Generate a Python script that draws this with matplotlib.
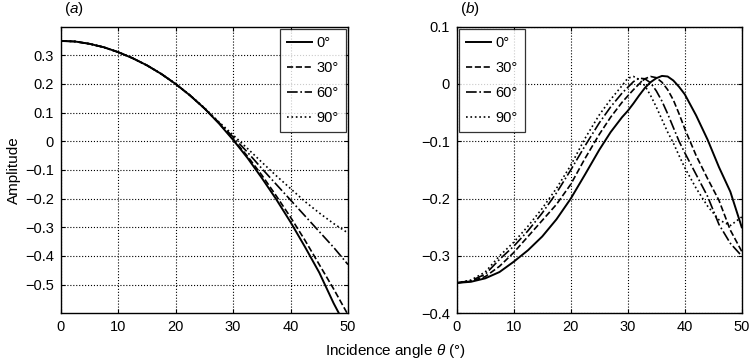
import numpy as np
import matplotlib
matplotlib.use("Agg")
import matplotlib.pyplot as plt

plt.rcParams['font.family'] = ['Liberation Sans', 'DejaVu Sans']
plt.rcParams['mathtext.fontset'] = 'custom'
plt.rcParams['mathtext.it'] = 'Liberation Sans:italic'
plt.rcParams['mathtext.rm'] = 'Liberation Sans'

labels = ["0°", "30°", "60°", "90°"]
styles = ["-", "--", "-.", ":"]

# panel (a), angles in degrees
theta_a = [0, 2.5, 5, 7.5, 10, 12.5, 15, 17.5, 20, 22.5, 25, 27.5,
           30, 32.5, 35, 37.5, 40, 42.5, 45, 47.5, 50]
a_0 = [0.350, 0.348, 0.340, 0.328, 0.311, 0.290, 0.265, 0.235, 0.200, 0.160, 0.115, 0.063,
       0.005, -0.058, -0.128, -0.202, -0.282, -0.368, -0.458, -0.565, -0.66]
a_30 = [0.350, 0.348, 0.340, 0.328, 0.311, 0.290, 0.265, 0.235, 0.200, 0.160, 0.115, 0.064,
        0.008, -0.052, -0.118, -0.190, -0.265, -0.345, -0.430, -0.515, -0.605]
a_60 = [0.350, 0.348, 0.340, 0.328, 0.311, 0.290, 0.265, 0.235, 0.200, 0.160, 0.115, 0.066,
        0.015, -0.038, -0.095, -0.150, -0.205, -0.260, -0.315, -0.370, -0.430]
a_90 = [0.350, 0.348, 0.340, 0.328, 0.311, 0.290, 0.265, 0.235, 0.200, 0.161, 0.117, 0.068,
        0.022, -0.025, -0.073, -0.120, -0.165, -0.210, -0.250, -0.287, -0.320]

# panel (b)
theta_b = [0, 2.5, 5, 7.5, 10, 12.5, 15, 17.5, 20, 22.5, 25, 27, 29, 30, 31, 32, 33,
           34, 35, 36, 37, 38, 39, 40, 42, 44, 46, 48, 50]
b_0 = [-0.347, -0.345, -0.339, -0.328, -0.310, -0.290, -0.266, -0.236, -0.200, -0.158, -0.115,
       -0.084, -0.058, -0.047, -0.034, -0.020, -0.007, 0.003, 0.010, 0.014, 0.013, 0.006,
       -0.005, -0.018, -0.055, -0.097, -0.145, -0.188, -0.250]
b_30 = [-0.347, -0.344, -0.336, -0.318, -0.294, -0.266, -0.238, -0.210, -0.175, -0.130, -0.088,
        -0.058, -0.032, -0.021, -0.010, 0.000, 0.009, 0.013, 0.011, 0.003, -0.010, -0.028,
        -0.052, -0.078, -0.125, -0.165, -0.203, -0.255, -0.292]
b_60 = [-0.347, -0.343, -0.332, -0.306, -0.283, -0.256, -0.225, -0.190, -0.150, -0.108, -0.068,
        -0.040, -0.016, -0.006, 0.004, 0.010, 0.009, 0.002, -0.012, -0.030, -0.052, -0.076,
        -0.100, -0.120, -0.158, -0.196, -0.245, -0.278, -0.300]
b_90 = [-0.347, -0.342, -0.328, -0.300, -0.276, -0.248, -0.217, -0.182, -0.142, -0.095, -0.054,
        -0.027, -0.003, 0.010, 0.013, 0.008, -0.003, -0.020, -0.040, -0.062, -0.084, -0.103,
        -0.125, -0.146, -0.182, -0.213, -0.237, -0.247, -0.232]

fig = plt.figure(figsize=(7.5, 3.62), dpi=100)
ax1 = fig.add_axes([0.081, 0.1345, 0.383, 0.792])
ax2 = fig.add_axes([0.609, 0.1345, 0.380, 0.792])

for y, ls, lab in zip([a_0, a_30, a_60, a_90], styles, labels):
    ax1.plot(theta_a, y, ls, color="black", lw=1.4 if ls == "-" else 1.2, label=lab)
for y, ls, lab in zip([b_0, b_30, b_60, b_90], styles, labels):
    ax2.plot(theta_b, y, ls, color="black", lw=1.4 if ls == "-" else 1.2, label=lab)

ax1.set_xlim(0, 50)
ax1.set_ylim(-0.6, 0.4)
ax1.set_yticks(np.arange(-0.5, 0.31, 0.1))
ax1.set_yticklabels(["\u22120.5", "\u22120.4", "\u22120.3", "\u22120.2", "\u22120.1", "0", "0.1", "0.2", "0.3"])
ax2.set_xlim(0, 50)
ax2.set_ylim(-0.4, 0.1)
ax2.set_yticks([-0.4, -0.3, -0.2, -0.1, 0, 0.1])
ax2.set_yticklabels(["\u22120.4", "\u22120.3", "\u22120.2", "\u22120.1", "0", "0.1"])

for ax, loc, title in [(ax1, "upper right", "($\\it{a}$)"), (ax2, "upper left", "($\\it{b}$)")]:
    ax.set_xticks([0, 10, 20, 30, 40, 50])
    ax.grid(True, color="black", linestyle=":", linewidth=0.8)
    ax.tick_params(direction="in", top=True, right=True, labelsize=10.5, length=3, pad=5)
    for s in ax.spines.values():
        s.set_linewidth(1.0)
    leg = ax.legend(loc=loc, fontsize=10.5, frameon=True, fancybox=False,
                    edgecolor="black", handlelength=1.7, labelspacing=0.75,
                    borderpad=0.5, handletextpad=0.3, borderaxespad=0.15)
    leg.get_frame().set_linewidth(0.9)
    ax.text(0.01, 1.03, title, transform=ax.transAxes, fontsize=11, ha="left", va="bottom")

fig.text(0.018, 0.53, "Amplitude", rotation=90, fontsize=11, ha="center", va="center")
fig.text(0.527, 0.03, "Incidence angle $\\it{\\theta}$ (°)", fontsize=11, ha="center", va="center")

fig.savefig("out.png", dpi=100)
